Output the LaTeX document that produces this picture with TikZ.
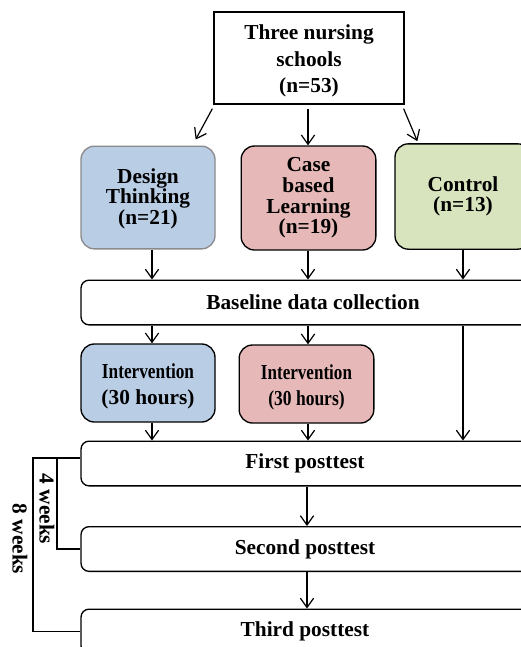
\documentclass[tikz,border=0pt]{standalone}
\usepackage{fontspec}
\setmainfont{Liberation Serif}
\usepackage{graphicx}
\usetikzlibrary{arrows.meta,calc}
\definecolor{dtblue}{HTML}{B9CDE5}
\definecolor{cbred}{HTML}{E6B9B8}
\definecolor{ctgreen}{HTML}{D7E4BD}
\definecolor{dtgray}{HTML}{8A8A8A}
\tikzset{
  txt/.style={font=\bfseries\fontsize{16}{15.5}\selectfont, align=center, inner sep=0pt},
  grp/.style={txt, draw, line width=1pt, rounded corners=10pt},
  wide/.style={txt, draw, line width=1pt, rounded corners=6pt, minimum width=336pt, minimum height=33.5pt},
  arr/.style={line width=0.9pt, -{Straight Barb[length=7pt,width=10pt,line width=0.9pt]}},
  brk/.style={line width=0.9pt}
}
\begin{document}
\begin{tikzpicture}[x=0.75pt,y=-0.75pt]
\useasboundingbox (0,0) rectangle (521,647);
\clip (0,0) rectangle (521,647);
% top
\node[txt, draw, line width=0.9pt, minimum width=142.5pt, minimum height=69pt,
      font=\bfseries\fontsize{16}{19.9}\selectfont] (top) at (309,58) {\rule{0pt}{16pt}Three nursing\\schools\\(n=53)};
% groups
\node[grp, draw=dtgray, fill=dtblue, minimum width=100.5pt, minimum height=77pt] (dt) at (148,197.5) {\rule{0pt}{13pt}Design\\Thinking\\(n=21)};
\node[grp, fill=cbred, minimum width=101pt, minimum height=78pt] (cbl) at (308.5,198) {Case\\based\\Learning\\(n=19)};
\node[grp, fill=ctgreen, minimum width=102pt, minimum height=79pt] (ctrl) at (463,196.5) {Control\\(n=13)};
% baseline
\node[wide, minimum width=348pt] (base) at (313,302.5) {Baseline data collection};
% interventions
\node[grp, fill=dtblue, minimum width=100.5pt, minimum height=58.5pt,
      font=\bfseries\fontsize{16}{19}\selectfont] (iv1) at (148,383) {\rule{0pt}{16pt}\scalebox{0.81}[1]{Intervention}\\(30 hours)};
\node[grp, fill=cbred, minimum width=101pt, minimum height=58.5pt,
      font=\bfseries\fontsize{16}{20}\selectfont] (iv2) at (306.5,384) {\rule{0pt}{16pt}\scalebox{0.80}[1]{Intervention}\\\scalebox{0.82}[1]{(30 hours)}};
% posttests
\node[wide] (p1) at (305,463.5) {First posttest};
\node[wide] (p2) at (305,549) {Second posttest};
\node[wide] (p3) at (305,631.5) {Third posttest};
% column coordinates
\coordinate (c1) at (152,0);
\coordinate (c2) at (308,0);
\coordinate (c3) at (463,0);
% arrows from top
\draw[arr] ($(top.south west)+(-1,4)$) -- ($(dt.north east)+(-20,-6)$);
\draw[arr] ($(top.south)+(-1,4)$) -- (cbl.north -| c2);
\draw[arr] ($(top.south east)+(-1,4)$) -- ($(ctrl.north west)+(23,-2)$);
% arrows to baseline
\draw[arr] (dt.south -| c1) -- (base.north -| c1);
\draw[arr] (cbl.south -| c2) -- (base.north -| c2);
\draw[arr] (ctrl.south -| c3) -- (base.north -| c3);
% baseline to interventions / first posttest
\draw[arr] (base.south -| c1) -- (iv1.north -| c1);
\draw[arr] (base.south -| c2) -- (iv2.north -| c2);
\draw[arr] (base.south -| c3) -- (p1.north -| c3);
\draw[arr] (iv1.south -| c1) -- (p1.north -| c1);
\draw[arr] (iv2.south -| c2) -- (p1.north -| c2);
% posttest chain
\coordinate (c4) at (307,0);
\draw[arr] (p1.south -| c4) -- (p2.north -| c4);
\draw[arr] (p2.south -| c4) -- (p3.north -| c4);
% brackets
\coordinate (b8) at (33,458);
\coordinate (b4) at (57,458);
\draw[brk] ($(p1.west)+(0,-5.5)$) -- (b8) |- (p3.west);
\draw[brk] (b4) |- (p2.west);
\node[txt, rotate=-90] (w4) at (47,509) {4 weeks};
\node[txt, rotate=-90] (w8) at (20,539) {8 weeks};
\end{tikzpicture}
\end{document}
